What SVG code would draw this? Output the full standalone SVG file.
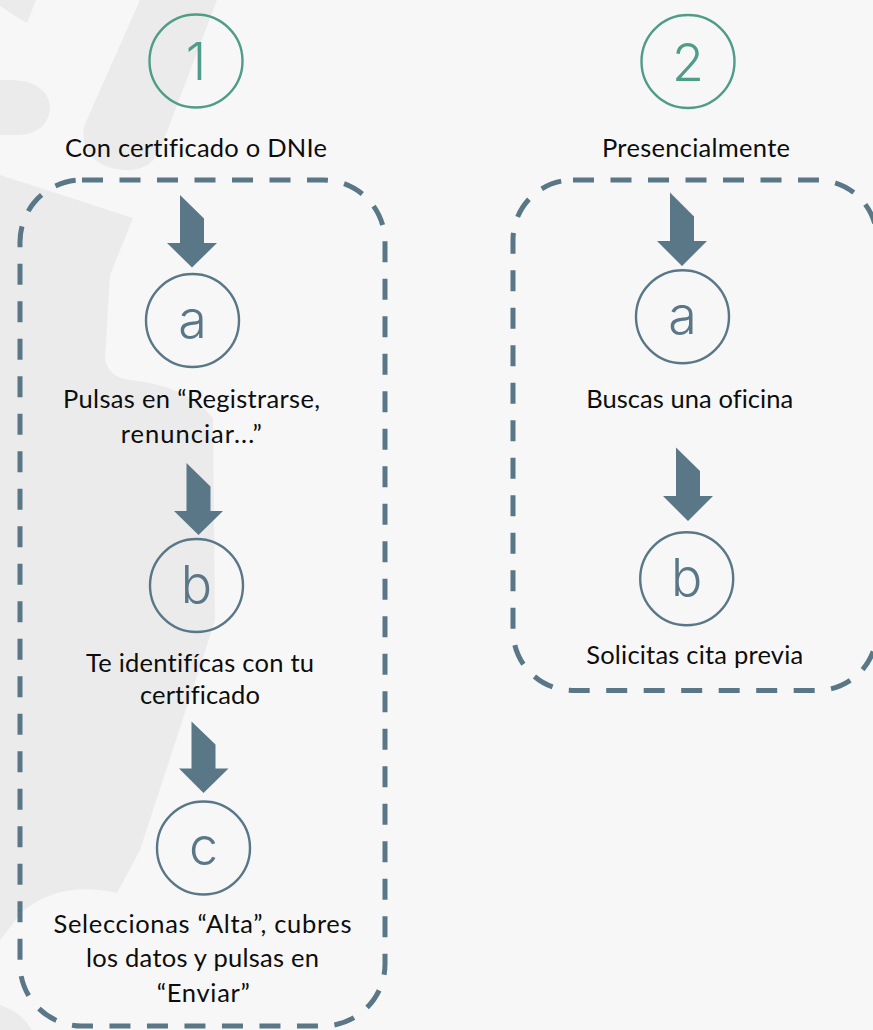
<svg xmlns="http://www.w3.org/2000/svg" width="873" height="1030" viewBox="0 0 873 1030">
<style>
.bg{fill:#F7F7F7}
.wm{fill:#EBEBEB}
.box{fill:none;stroke:#5A7787;stroke-width:5;stroke-dasharray:21 16.5}
.num{fill:none;stroke:#4F9C89;stroke-width:2.4}
.numt{fill:#4F9C89;font-family:Inter,"Liberation Sans",sans-serif;font-weight:300;font-size:52px;text-anchor:middle}
.step{fill:none;stroke:#5A7787;stroke-width:2.4}
.stept{fill:#5A7787;font-family:Inter,"Liberation Sans",sans-serif;font-weight:300;font-size:52px;text-anchor:middle}
.arrow{fill:#5A7787}
.lbl{fill:#0D0D0D;font-family:Lato,"Liberation Sans",sans-serif;font-size:25.5px;text-anchor:middle;font-variant-ligatures:none}
</style>
<rect class="bg" x="0" y="0" width="873" height="1030"/>
<g id="watermark">
<path class="wm" d="M0,0 H36 L27,23 Q18,18 0,6 Z"/>
<path class="wm" d="M140,0 H217 L160,150 Q150,172 122,170 Q90,166 84,142 Q82,130 86,122 Z"/>
<path class="wm" d="M0,80 Q45,78 50,105 Q50,132 20,135 L0,135 Z"/>
<path class="wm" d="M0,175 L133,218 L110,275 L105,360 Q110,378 130,380 Q185,385 213,418 L215,620 L207,645 L140,850 L117,893 Q60,880 22,912 L0,940 Z"/>
<path class="wm" d="M0,1005 Q22,1012 32,1030 L0,1030 Z"/>
</g>
<g id="connectors">
<path class="arrow" d="M180,195 L204,218.5 V243 H217 L192,267.5 L167,243 H180 Z"/>
<path class="arrow" d="M186.5,463 L210.5,486.5 V511 H223 L198.5,535 L174,511 H186.5 Z"/>
<path class="arrow" d="M191.5,721.5 L215.5,744.5 V768.5 H228.5 L203.5,793 L179,768.5 H191.5 Z"/>
<path class="arrow" d="M670,192.5 L694,216.5 V241 H707 L682,266 L657,241 H670 Z"/>
<path class="arrow" d="M676,447.5 L700,471 V496 H713 L688,521 L663,496 H676 Z"/>
</g>
<g id="group1">
<rect class="box" x="20" y="180" width="365" height="846" rx="62" ry="62"/>
</g>
<g id="group2">
<rect class="box" x="513" y="180" width="364" height="510.5" rx="60" ry="60"/>
</g>
<g id="node-1">
<circle class="num" cx="196" cy="61" r="46.5"/>
<text class="numt" x="196" y="80">1</text>
<text class="lbl" x="196" y="157" textLength="262">Con certificado o DNIe</text>
</g>
<g id="node-2">
<circle class="num" cx="688" cy="61.5" r="46.5"/>
<text class="numt" x="688" y="81">2</text>
<text class="lbl" x="696" y="157" textLength="188">Presencialmente</text>
</g>
<g id="node-1a">
<circle class="step" cx="192.5" cy="320.5" r="46.5"/>
<text class="stept" x="192.5" y="337.5">a</text>
<text class="lbl" x="191.5" y="408" textLength="257">Pulsas en “Registrarse,</text>
<text class="lbl" x="191.3" y="442.7" textLength="141">renunciar...”</text>
</g>
<g id="node-1b">
<circle class="step" cx="196.5" cy="585.5" r="46.5"/>
<text class="stept" x="196.5" y="602.5">b</text>
<text class="lbl" x="200" y="671.7" textLength="228">Te identifícas con tu</text>
<text class="lbl" x="200" y="704" textLength="120">certificado</text>
</g>
<g id="node-1c">
<circle class="step" cx="203.5" cy="848" r="46.5"/>
<text class="stept" x="203.5" y="865">c</text>
<text class="lbl" x="202.5" y="933" textLength="298">Seleccionas “Alta”, cubres</text>
<text class="lbl" x="202.5" y="966.7" textLength="233">los datos y pulsas en</text>
<text class="lbl" x="203.3" y="1001.7" textLength="93">“Enviar”</text>
</g>
<g id="node-2a">
<circle class="step" cx="682.5" cy="316.7" r="46.5"/>
<text class="stept" x="682.5" y="334">a</text>
<text class="lbl" x="689.7" y="407.7" textLength="207">Buscas una oficina</text>
</g>
<g id="node-2b">
<circle class="step" cx="686.7" cy="578.8" r="46.5"/>
<text class="stept" x="686.7" y="596">b</text>
<text class="lbl" x="694.7" y="664" textLength="217">Solicitas cita previa</text>
</g>
</svg>
